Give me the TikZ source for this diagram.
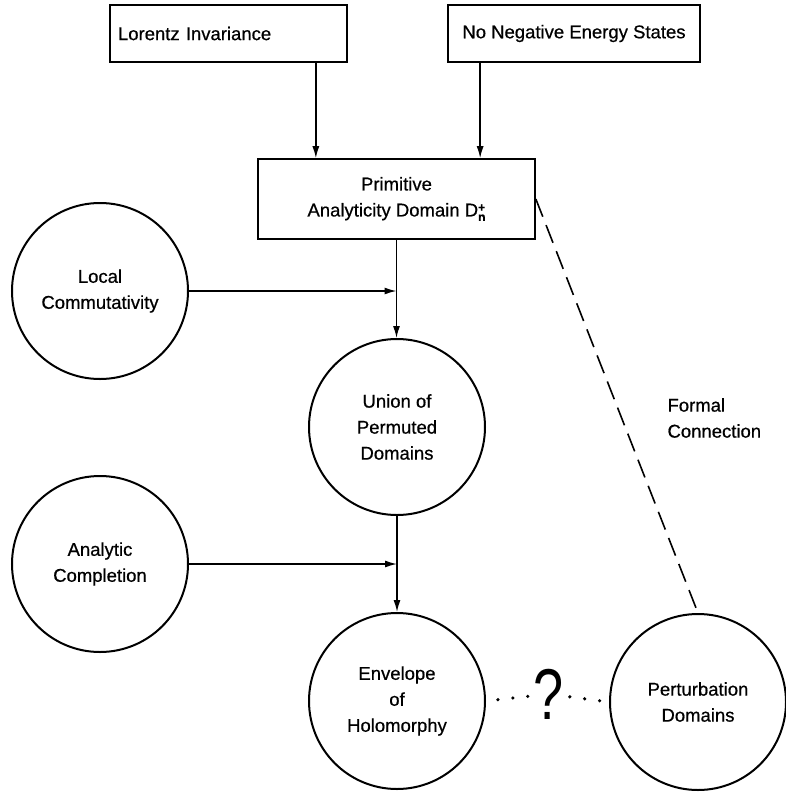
\documentclass[tikz,border=0pt]{standalone}
\usepackage{fontspec}
\setmainfont{Liberation Sans}[FakeBold=0.6]
\newfontfamily\qfont{Liberation Sans}
\usetikzlibrary{arrows.meta}
\begin{document}
\begin{tikzpicture}[x=1pt,y=-1pt,
  every node/.style={font=\fontsize{18.5}{26}\selectfont},
  rbox/.style={draw, line width=1.7pt, rectangle, inner sep=0pt},
  circ/.style={draw, line width=2pt, circle, minimum size=176pt, inner sep=0pt, align=center},
  arr/.style={line width=1.4pt, -{Latex[length=12pt,width=7pt]}},
  fconn/.style={line width=1.6pt, dash pattern=on 19pt off 9pt},
  dotline/.style={line width=3.6pt, line cap=round, dash pattern=on 0pt off 15pt}
]
\useasboundingbox (0,0) rectangle (786,793);

\node[rbox, minimum height=57pt, text width=221pt, inner xsep=8pt, align=left] (lor) at (228.5,33.5) {Lorentz Invariance};
\node[rbox, minimum height=57pt, minimum width=252pt] (neg) at (574,33.5) {No Negative Energy States};
\node[rbox, minimum height=80pt, minimum width=277pt, align=center] (prim) at (396.5,199)
  {Primitive\\Analyticity Domain D\raisebox{-4.5pt}{\fontsize{12}{11.5}\selectfont\shortstack[l]{\textbf{+}\\\textbf{n}}}};

\node[circ] (loc) at (100,291) {Local\\Commutativity};
\node[circ] (uni) at (397,427) {Union of\\Permuted\\Domains};
\node[circ] (ana) at (100,564) {Analytic\\Completion};
\node[circ] (env) at (397,701) {Envelope\\of\\Holomorphy};
\node[circ] (per) at (698,702) {Perturbation\\Domains};

\node[inner sep=0pt] (q) at (549,694) {\scalebox{1.5}[2.0]{\qfont\fontsize{36}{36}\selectfont ?}};
\node[anchor=west, align=left] (fc) at (664,418) {Formal\\Connection};

\draw[arr] ([xshift=-32pt]lor.south east) -- ([xshift=-32pt]lor.south east |- prim.north);
\draw[arr] ([xshift=33pt]neg.south west) -- ([xshift=33pt]neg.south west |- prim.north);
\draw[arr] (prim.south) -- (prim.south |- uni.north);
\draw[arr] (loc.east) -- (loc.east -| prim.south);
\draw[arr] (uni.south) -- (env.north);
\draw[arr] (ana.east) -- (ana.east -| uni.south);
\draw[fconn] (prim.east) -- (per.north);
\draw[dotline, shorten <=12pt, shorten >=19pt] (env.east) -- (q.center);
\draw[dotline, shorten <=21pt, shorten >=7pt] (q.center) -- (per.west);
\end{tikzpicture}
\end{document}
